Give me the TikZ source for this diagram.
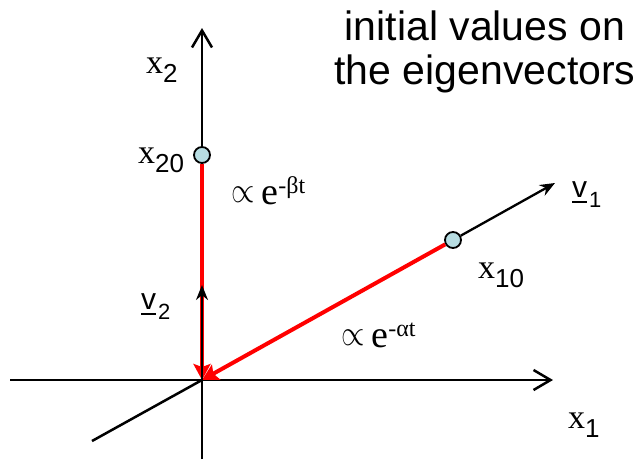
\documentclass[tikz,border=0pt]{standalone}
\usepackage{fontspec}
\setmainfont{Liberation Serif}
\newfontfamily\arialf{Liberation Sans}
\usetikzlibrary{arrows.meta}
\definecolor{dotfill}{RGB}{183,221,226}
\newcommand\xlab[1]{{\fontsize{34}{34}\selectfont x}\raisebox{-9.5pt}{\arialf\fontsize{26}{26}\selectfont #1}}
\newcommand\vlab[1]{{\arialf\fontsize{30}{30}\selectfont\makebox[0pt][l]{\rule[-6.2pt]{0.5em}{2.5pt}}v}\hspace{2pt}\raisebox{-10pt}{\arialf\fontsize{22}{22}\selectfont #1}}
\newcommand\plab[1]{\raisebox{2pt}{\scalebox{3.0}[3.6]{$\propto$}}\hspace{7pt}{\fontsize{38}{38}\selectfont e}\raisebox{11pt}{\fontsize{24}{24}\selectfont -#1t}}
\begin{document}
\begin{tikzpicture}[x=1pt,y=-1pt,
  axis/.style={line width=2.5pt,-{Straight Barb[length=17pt,width=20pt]}},
  plain/.style={line width=2.5pt},
  vec/.style={line width=2.3pt,-{Stealth[length=15pt,width=12pt]}},
  redarr/.style={draw=red,line width=4pt,-{Stealth[length=16pt,width=17pt,inset=3pt]}},
  dot/.style={circle,draw=black,line width=1.8pt,fill=dotfill,minimum size=16pt,inner sep=0pt},
  lbl/.style={anchor=base west,inner sep=0pt},
  title/.style={anchor=base,inner sep=0pt,font=\arialf\fontsize{41}{41}\selectfont}]
\useasboundingbox (0,0) rectangle (644,459);
\coordinate (O) at (202,380);
\coordinate (x2top) at (202,28);
\coordinate (x2bot) at (202,459);
\coordinate (x1left) at (10,380);
\coordinate (x1tip) at (553,380);
\coordinate (obl) at (92,441);
\coordinate (v1tip) at (555,183);
\coordinate (v2tip) at (202,285);
% axes
\draw[axis] (x2bot) -- (x2top);
\draw[axis] (x1left) -- (x1tip);
\draw[plain] (obl) -- (O);
% initial points
\node[dot] (p20) at (202,155) {};
\node[dot] (p10) at (453,240) {};
% decays
\draw[redarr] (p20) -- (O);
\draw[redarr] (p10) -- (O);
% eigenvectors
\draw[vec] (O) -- (v2tip);
\draw[vec] (p10) -- (v1tip);
% labels
\node[lbl] (lx2) at (146,73) {\xlab{2}};
\node[lbl] (lx20) at (138,163) {\xlab{20}};
\node[lbl] (lx10) at (478,278) {\xlab{10}};
\node[lbl] (lx1) at (568,428) {\xlab{1}};
\node[lbl] (lv1) at (572,197) {\vlab{1}};
\node[lbl] (lv2) at (141,309) {\vlab{2}};
\node[lbl] (lb) at (231,204) {\plab{β}};
\node[lbl] (la) at (341,347) {\plab{α}};
\node[title] (t1) at (485,40) {initial values on};
\node[title] (t2) at (485,84) {the eigenvectors};
\end{tikzpicture}
\end{document}
